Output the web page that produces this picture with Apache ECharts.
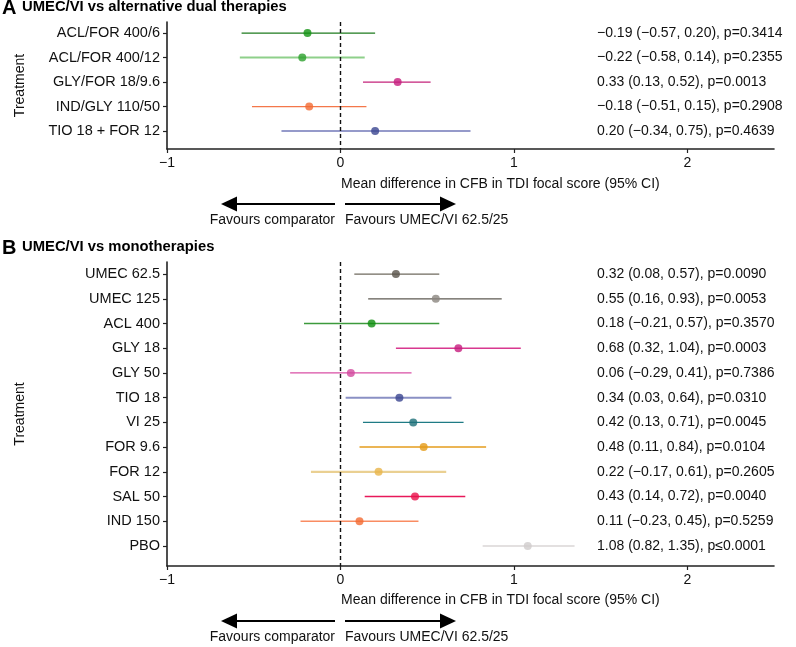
<!DOCTYPE html>
<html>
<head>
<meta charset="utf-8">
<script src="https://cdn.jsdelivr.net/npm/echarts@6/dist/echarts.min.js"></script>
<style>
  html, body { margin: 0; padding: 0; background: #fff; }
  #chart { width: 796px; height: 647px; }
</style>
</head>
<body>
<div id="chart"></div>
<script>
// panel A: UMEC/VI vs alternative dual therapies
const treatmentsA = ['ACL/FOR 400/6', 'ACL/FOR 400/12', 'GLY/FOR 18/9.6', 'IND/GLY 110/50', 'TIO 18 + FOR 12'];
const meanA = [-0.19, -0.22, 0.33, -0.18, 0.20];
const lowA = [-0.57, -0.58, 0.13, -0.51, -0.34];
const highA = [0.20, 0.14, 0.52, 0.15, 0.75];
const pA = ['p=0.3414', 'p=0.2355', 'p=0.0013', 'p=0.2908', 'p=0.4639'];

// panel B: UMEC/VI vs monotherapies
const treatmentsB = ['UMEC 62.5', 'UMEC 125', 'ACL 400', 'GLY 18', 'GLY 50', 'TIO 18', 'VI 25', 'FOR 9.6', 'FOR 12', 'SAL 50', 'IND 150', 'PBO'];
const meanB = [0.32, 0.55, 0.18, 0.68, 0.06, 0.34, 0.42, 0.48, 0.22, 0.43, 0.11, 1.08];
const lowB = [0.08, 0.16, -0.21, 0.32, -0.29, 0.03, 0.13, 0.11, -0.17, 0.14, -0.23, 0.82];
const highB = [0.57, 0.93, 0.57, 1.04, 0.41, 0.64, 0.71, 0.84, 0.61, 0.72, 0.45, 1.35];
const pB = ['p=0.0090', 'p=0.0053', 'p=0.3570', 'p=0.0003', 'p=0.7386', 'p=0.0310', 'p=0.0045', 'p=0.0104', 'p=0.2605', 'p=0.0040', 'p=0.5259', 'p\u22640.0001'];

const xTicks = [-1, 0, 1, 2];

// styles
const dotColorsA = ['#139413', '#2ca02c', '#c51b7d', '#f26a32', '#3a4590'];
const lineColorsA = ['#1e7b1e', '#8ed08a', '#c4237b', '#f4774a', '#7279b8'];
const lineWidthsA = [1.3, 2, 1.3, 1.3, 1.5];
const dotColorsB = ['#59534a', '#8b8680', '#0e8f0e', '#c51b7d', '#d2489e', '#3a4590', '#1d6f78', '#e39a17', '#e8b449', '#e8104a', '#f26a32', '#d0cccc'];
const lineColorsB = ['#6f6a5e', '#5e5a52', '#3c9a3c', '#d8388f', '#d94fa5', '#8a90c4', '#1f7b85', '#e59c1c', '#ead092', '#e8195a', '#f98c62', '#e3e0e0'];
const lineWidthsB = [1.3, 1.3, 1.5, 1.5, 1.3, 2, 1.3, 1.5, 2.2, 1.5, 1.5, 2.2];

const FONT = '"Liberation Sans", Arial, sans-serif';
const AXIS_COLOR = '#222';

const fmtNum = (v) => v.toFixed(2).replace('-', '\u2212');
const resultText = (m, l, h, p) => fmtNum(m) + ' (' + fmtNum(l) + ', ' + fmtNum(h) + '), ' + p;

function idx(n) { return Array.from({ length: n }, (_, i) => i); }

function yAxes(gridIndex, names, texts, min, max) {
  const rows = idx(names.length);
  return [
    {
      type: 'value', gridIndex, min, max, inverse: true, position: 'left',
      name: 'Treatment', nameLocation: 'middle', nameRotate: 90, nameGap: 140,
      nameTextStyle: { fontFamily: FONT, fontSize: 14, color: '#111' },
      splitLine: { show: false },
      axisLine: { show: true, onZero: false, lineStyle: { color: AXIS_COLOR, width: 1.6 } },
      axisTick: { show: true, length: 4, customValues: rows, lineStyle: { color: AXIS_COLOR, width: 1.2 } },
      axisLabel: {
        customValues: rows, margin: 7, fontFamily: FONT, fontSize: 14.5, color: '#111',
        formatter: (v) => names[Math.round(v)]
      }
    },
    {
      type: 'value', gridIndex, min, max, inverse: true, position: 'right', offset: -177,
      splitLine: { show: false },
      axisLine: { show: false, onZero: false },
      axisTick: { show: false },
      axisLabel: {
        customValues: rows, margin: 0, align: 'left', fontFamily: FONT, fontSize: 14, color: '#111',
        formatter: (v) => texts[Math.round(v)]
      }
    }
  ];
}

function xAxis(gridIndex) {
  return {
    type: 'value', gridIndex, min: -1, max: 2.5, position: 'bottom',
    splitLine: { show: false },
    axisLine: { show: true, onZero: false, lineStyle: { color: AXIS_COLOR, width: 1.6 } },
    axisTick: { show: true, length: 4, customValues: xTicks, lineStyle: { color: AXIS_COLOR, width: 1.2 } },
    axisLabel: {
      customValues: xTicks, margin: 7, fontFamily: FONT, fontSize: 14, color: '#111',
      formatter: (v) => String(v).replace('-', '\u2212')
    }
  };
}

function forestSeries(axisIndex, mean, low, high, dotColors, lineColors, widths) {
  return [
    {
      type: 'custom', xAxisIndex: axisIndex, yAxisIndex: axisIndex * 2,
      data: low.map((l, i) => [l, high[i], i]),
      encode: { x: [0, 1], y: 2 },
      renderItem: (params, api) => {
        const i = api.value(2);
        const a = api.coord([api.value(0), i]);
        const b = api.coord([api.value(1), i]);
        return {
          type: 'line',
          shape: { x1: a[0], y1: a[1], x2: b[0], y2: b[1] },
          style: { stroke: lineColors[params.dataIndex], lineWidth: widths[params.dataIndex] }
        };
      },
      silent: true, z: 2
    },
    {
      type: 'scatter', xAxisIndex: axisIndex, yAxisIndex: axisIndex * 2,
      symbolSize: 8,
      data: mean.map((m, i) => ({ value: [m, i], itemStyle: { color: dotColors[i] } })),
      z: 3,
      markLine: {
        silent: true, symbol: 'none', label: { show: false },
        lineStyle: { color: '#111', type: [4, 3], width: 1.4 },
        data: [{ xAxis: 0 }]
      }
    }
  ];
}

function arrowGraphics(y) {
  const s = { fill: '#000' };
  return [
    { type: 'line', shape: { x1: 335, y1: y, x2: 234, y2: y }, style: { stroke: '#000', lineWidth: 2 } },
    { type: 'polygon', shape: { points: [[221, y], [237, y - 7.5], [237, y + 7.5]] }, style: s },
    { type: 'line', shape: { x1: 345, y1: y, x2: 443, y2: y }, style: { stroke: '#000', lineWidth: 2 } },
    { type: 'polygon', shape: { points: [[456, y], [440, y - 7.5], [440, y + 7.5]] }, style: s }
  ];
}

function text(x, y, str, opts) {
  return {
    type: 'text', x, y,
    style: Object.assign({ text: str, font: '14px ' + FONT, fill: '#111', textVerticalAlign: 'middle' }, opts || {})
  };
}

const chart = echarts.init(document.getElementById('chart'), null, { renderer: 'canvas' });

const textsA = meanA.map((m, i) => resultText(m, lowA[i], highA[i], pA[i]));
const textsB = meanB.map((m, i) => resultText(m, lowB[i], highB[i], pB[i]));

chart.setOption({
  animation: false,
  backgroundColor: '#fff',
  grid: [
    { left: 167, top: 22, width: 607, height: 127 },
    { left: 167, top: 262, width: 607, height: 304 }
  ],
  xAxis: [xAxis(0), xAxis(1)],
  yAxis: [
    ...yAxes(0, treatmentsA, textsA, -0.45, 4.73),
    ...yAxes(1, treatmentsB, textsB, -0.49, 11.81)
  ],
  series: [
    ...forestSeries(0, meanA, lowA, highA, dotColorsA, lineColorsA, lineWidthsA),
    ...forestSeries(1, meanB, lowB, highB, dotColorsB, lineColorsB, lineWidthsB)
  ],
  graphic: [
    text(2, 8, 'A', { font: 'bold 20px ' + FONT, fill: '#000' }),
    text(22, 7, 'UMEC/VI vs alternative dual therapies', { font: 'bold 14.8px ' + FONT, fill: '#000' }),
    text(341, 184, 'Mean difference in CFB in TDI focal score (95% CI)'),
    ...arrowGraphics(204),
    text(335, 220, 'Favours comparator', { textAlign: 'right' }),
    text(345, 220, 'Favours UMEC/VI 62.5/25'),

    text(2, 248, 'B', { font: 'bold 20px ' + FONT, fill: '#000' }),
    text(22, 247, 'UMEC/VI vs monotherapies', { font: 'bold 14.8px ' + FONT, fill: '#000' }),
    text(341, 600, 'Mean difference in CFB in TDI focal score (95% CI)'),
    ...arrowGraphics(621),
    text(335, 637, 'Favours comparator', { textAlign: 'right' }),
    text(345, 637, 'Favours UMEC/VI 62.5/25')
  ]
});
</script>
</body>
</html>
